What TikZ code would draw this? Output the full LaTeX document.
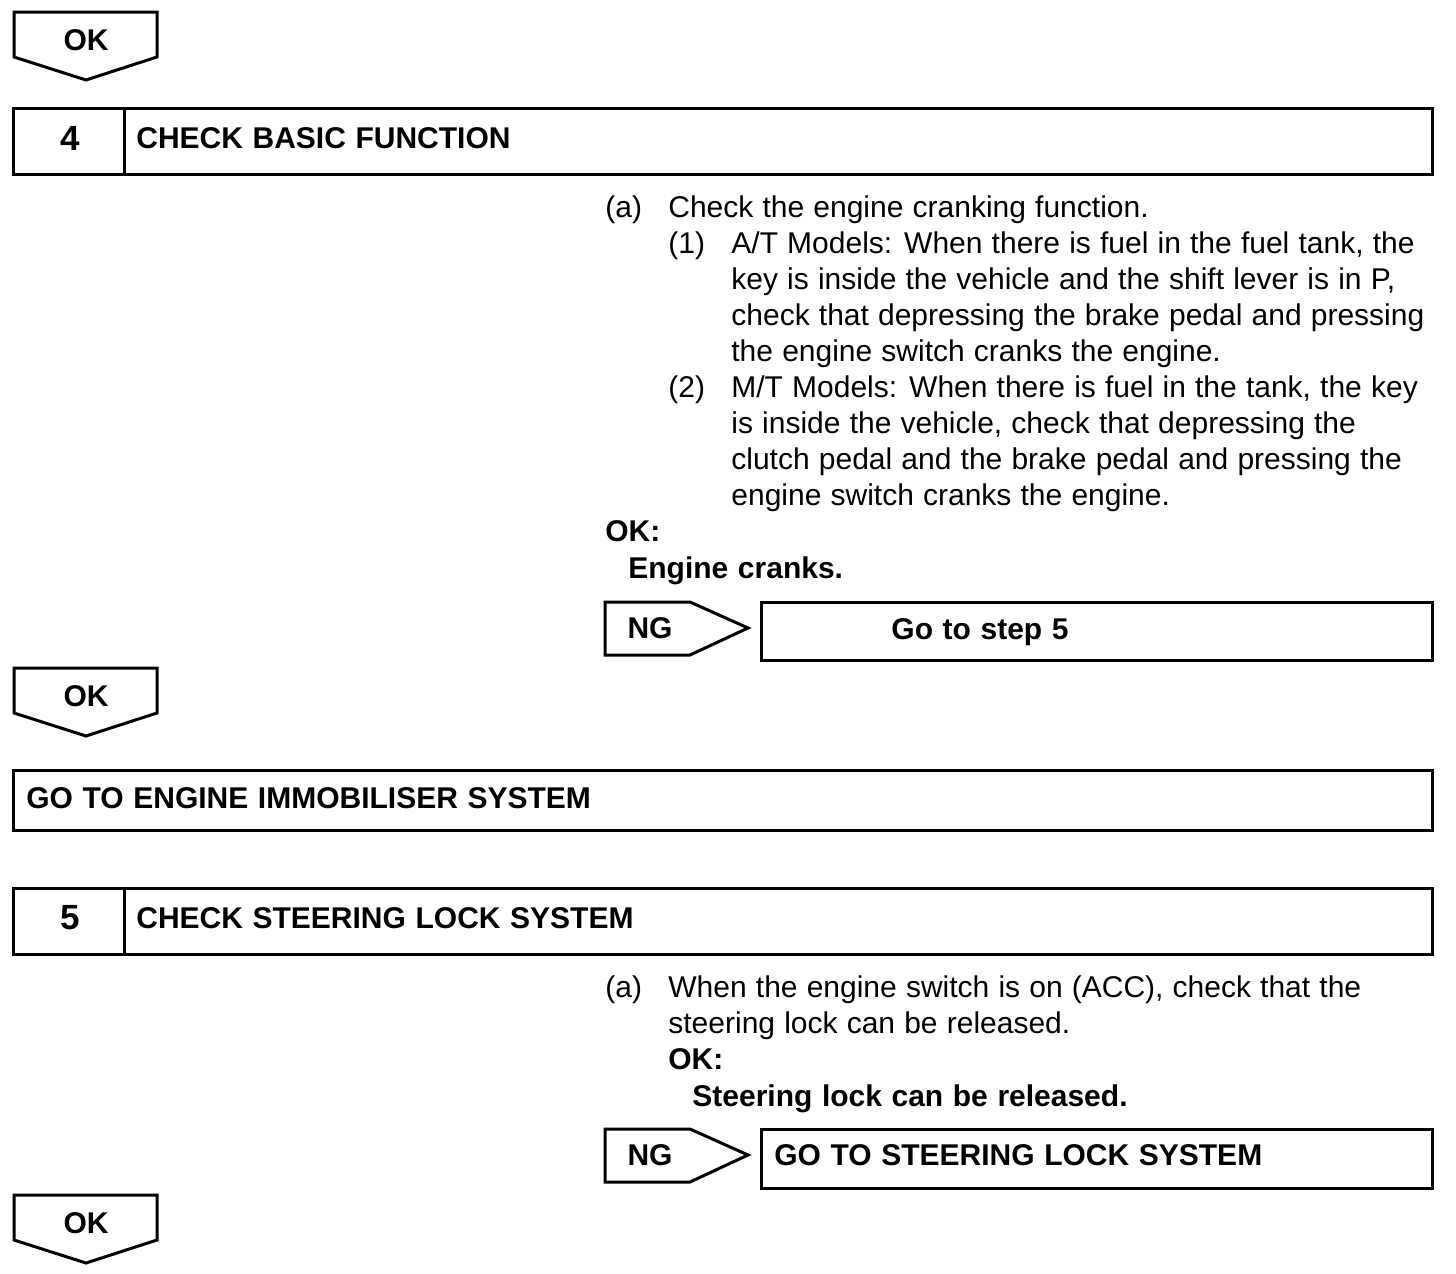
\documentclass[tikz,border=0pt]{standalone}
\usepackage{fontspec}
\setmainfont{Liberation Sans}[WordSpace=1.1,BoldFeatures={WordSpace=1.15}]
\newcommand{\lines}[1]{\begin{tabular}[t]{@{}l@{}}#1\end{tabular}}
\newcommand{\okmark}[2]{% name, top
  \draw[frame] (14,#2+45) -- (14,#2) -- (157,#2) -- (157,#2+45) -- (86,#2+68) -- cycle;
  \node (#1) [bold,anchor=base] at (86,#2+38) {OK};}
\newcommand{\ngmark}[2]{% name, top
  \draw[frame] (605,#2) -- (690,#2) -- (748,#2+26) -- (690,#2+53) -- (605,#2+53) -- cycle;
  \node (#1) [bold,anchor=base] at (650,#2+36) {NG};}
\begin{document}
\begin{tikzpicture}[x=0.5pt,y=-0.5pt,
    frame/.style={draw,line width=1.5pt},
    txt/.style={anchor=base west,inner sep=0pt,
      font=\fontsize{15}{18}\selectfont},
    bold/.style={txt,font=\fontsize{15}{18}\selectfont\bfseries},
    stepno/.style={txt,anchor=base,font=\fontsize{17.5}{18}\selectfont\bfseries}]
  \useasboundingbox (0,0) rectangle (1456,1274);

  % step 4
  \okmark{ok1}{12}
  \draw[frame] (13,108) rectangle (1432,174);
  \draw[frame] (124,108) -- (124,174);
  \node (n4) [stepno] at (70,150) {4};
  \node (t4) [bold] at (136,148) {CHECK BASIC FUNCTION};

  \node (a4) [txt] at (605,217) {(a)};
  \node (a4t) [txt] at (668,217) {Check the engine cranking function.};
  \node (i1) [txt] at (668,253) {(1)};
  \node (i1t) [txt] at (731,253) {\lines{A/T Models: When there is fuel in the fuel tank, the\\
    key is inside the vehicle and the shift lever is in P,\\
    check that depressing the brake pedal and pressing\\
    the engine switch cranks the engine.}};
  \node (i2) [txt] at (668,397) {(2)};
  \node (i2t) [txt] at (731,397) {\lines{M/T Models: When there is fuel in the tank, the key\\
    is inside the vehicle, check that depressing the\\
    clutch pedal and the brake pedal and pressing the\\
    engine switch cranks the engine.}};
  \node (ok4) [bold] at (605,541) {OK:};
  \node (res4) [bold] at (628,578) {Engine cranks.};

  \ngmark{ng4}{602}
  \draw[frame] (761,602) rectangle (1432,660);
  \node (go5) [bold,anchor=base] at (980,639) {Go to step 5};

  \okmark{ok2}{668}
  \draw[frame] (13,770) rectangle (1432,830);
  \node (imm) [bold] at (26,808) {GO TO ENGINE IMMOBILISER SYSTEM};

  % step 5
  \draw[frame] (13,888) rectangle (1432,954);
  \draw[frame] (124,888) -- (124,954);
  \node (n5) [stepno] at (70,929) {5};
  \node (t5) [bold] at (136,928) {CHECK STEERING LOCK SYSTEM};

  \node (a5) [txt] at (605,997) {(a)};
  \node (a5t) [txt] at (668,997) {\lines{When the engine switch is on (ACC), check that the\\
    steering lock can be released.}};
  \node (ok5) [bold] at (668,1069) {OK:};
  \node (res5) [bold] at (692,1106) {Steering lock can be released.};

  \ngmark{ng5}{1129}
  \draw[frame] (761,1129) rectangle (1432,1188);
  \node (lock) [bold] at (774,1165) {GO TO STEERING LOCK SYSTEM};

  \okmark{ok3}{1195}
\end{tikzpicture}
\end{document}
